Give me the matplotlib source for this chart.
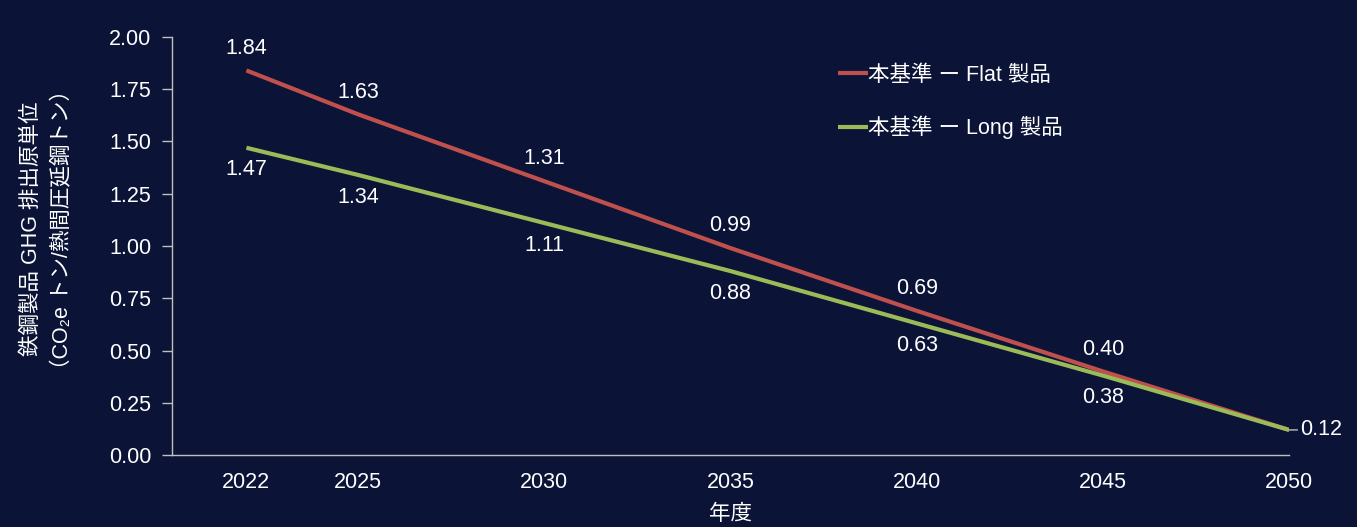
import matplotlib
matplotlib.use("Agg")
import matplotlib.pyplot as plt

plt.rcParams['font.family'] = ['Liberation Sans', 'Noto Sans CJK JP', 'DejaVu Sans']

years = [2022, 2025, 2030, 2035, 2040, 2045, 2050]
flat_vals = [1.84, 1.63, 1.31, 0.99, 0.69, 0.40, 0.12]
long_vals = [1.47, 1.34, 1.11, 0.88, 0.63, 0.38, 0.12]
series_names = ["本基準 ー Flat 製品", "本基準 ー Long 製品"]
y_ticks = [0.00, 0.25, 0.50, 0.75, 1.00, 1.25, 1.50, 1.75, 2.00]

bg = '#0b1437'
fg = '#ffffff'
axis_col = '#bfbfbf'
red = '#c0504d'
green = '#9bbb59'
fs = 15.5

fig = plt.figure(figsize=(13.57, 5.27), dpi=100, facecolor=bg)
ax = fig.add_axes([0.1267, 0.1366, 0.8233, 0.7932], facecolor=bg)

ax.plot(years, flat_vals, color=red, lw=3, label=series_names[0], solid_capstyle='butt')
ax.plot(years, long_vals, color=green, lw=3, label=series_names[1], solid_capstyle='butt')

ax.set_xlim(2020, 2050)
ax.set_ylim(0, 2.0)
ax.set_xticks(years)
ax.set_xticklabels([str(y) for y in years])
ax.set_yticks(y_ticks)
ax.set_yticklabels([f"{v:.2f}" for v in y_ticks])

ax.tick_params(axis='x', length=0, pad=12, labelcolor=fg, labelsize=fs)
ax.tick_params(axis='y', length=7, width=1, color=axis_col, pad=8, labelcolor=fg, labelsize=fs)

for s in ['top', 'right']:
    ax.spines[s].set_visible(False)
for s in ['left', 'bottom']:
    ax.spines[s].set_color(axis_col)
    ax.spines[s].set_linewidth(1)

# value labels: Flat above the line, Long below
for x, v in zip(years[:-1], flat_vals[:-1]):
    ax.annotate(f"{v:.2f}", (x, v), xytext=(0, 16), textcoords='offset points',
                ha='center', va='center', color=fg, fontsize=fs)
for x, v in zip(years[:-1], long_vals[:-1]):
    ax.annotate(f"{v:.2f}", (x, v), xytext=(0, -16), textcoords='offset points',
                ha='center', va='center', color=fg, fontsize=fs)
ax.annotate(f"{flat_vals[-1]:.2f}", (years[-1], flat_vals[-1]), xytext=(8, 0),
            textcoords='offset points', ha='left', va='center', color=fg, fontsize=fs,
            arrowprops=dict(arrowstyle='-', color=axis_col, lw=1, shrinkA=0, shrinkB=0),
            annotation_clip=False)

ax.set_xlabel("年度", color=fg, fontsize=fs, labelpad=8)
fig.text(0.023, 0.565, "鉄鋼製品 GHG 排出原単位", rotation=90, ha='center', va='center',
         color=fg, fontsize=fs)
fig.text(0.046, 0.565, "（CO₂e トン/熱間圧延鋼トン）", rotation=90, ha='center', va='center',
         color=fg, fontsize=fs)

leg = ax.legend(loc='upper left', bbox_to_anchor=(0.579, 0.98), frameon=False,
                handlelength=1.4, handletextpad=0.0, labelspacing=1.4,
                fontsize=fs, labelcolor=fg)

fig.savefig("out.png", dpi=100, facecolor=bg)
